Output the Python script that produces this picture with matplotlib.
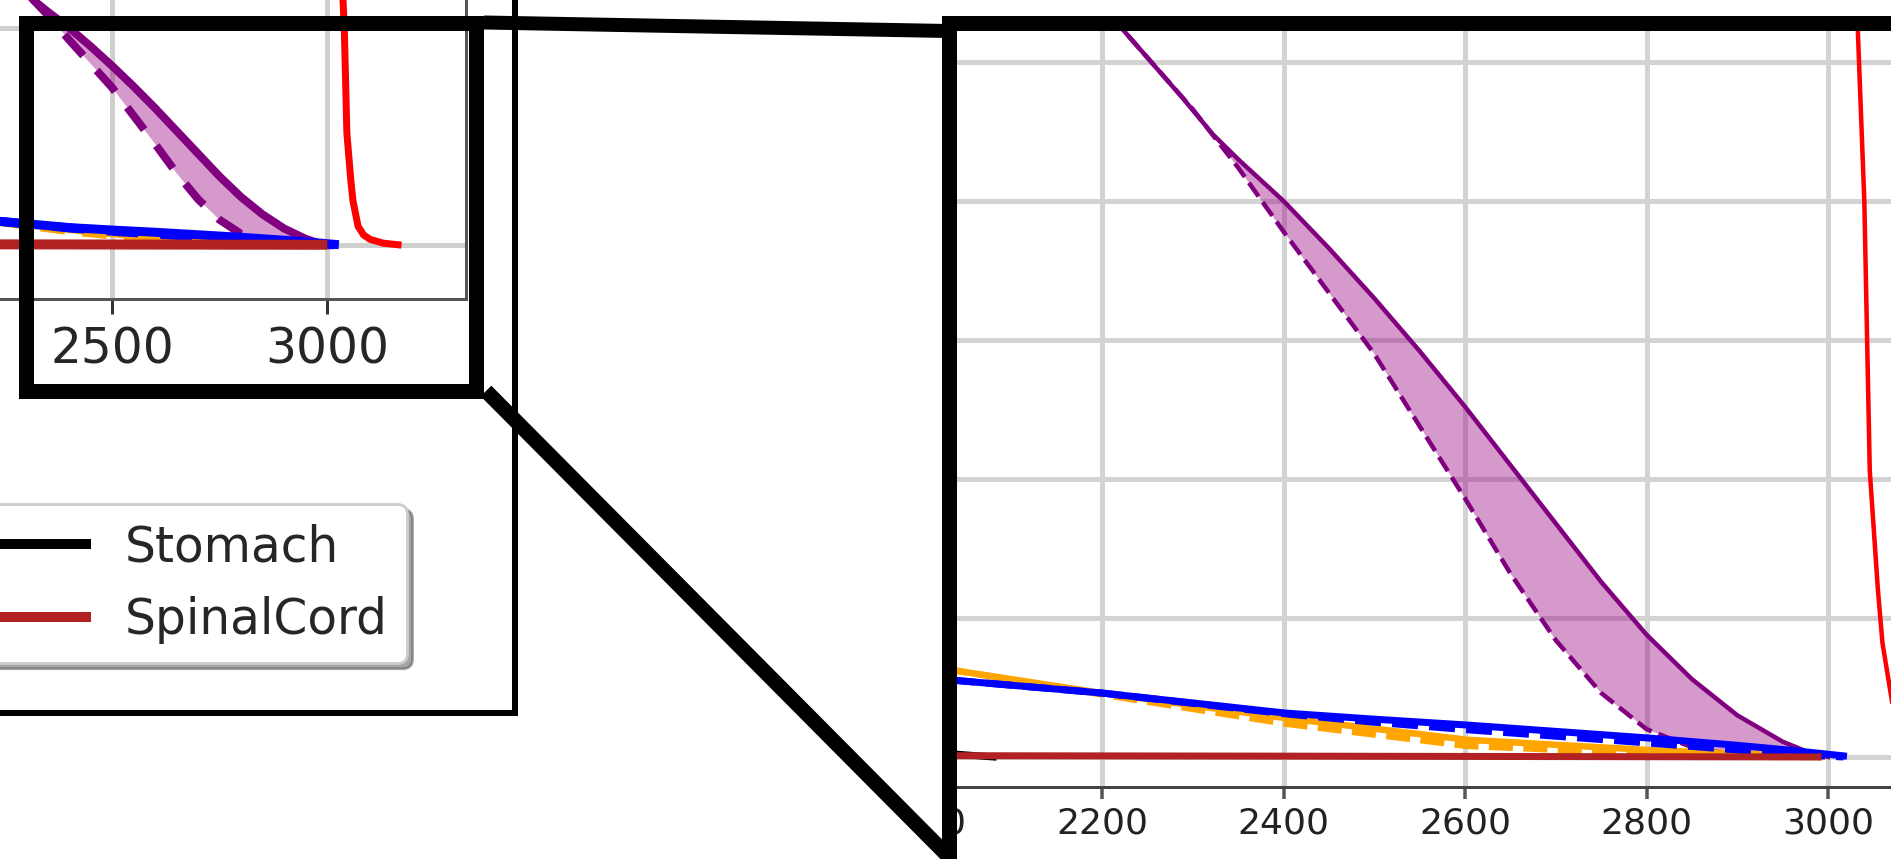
import numpy as np
import matplotlib
matplotlib.use("Agg")
import matplotlib.pyplot as plt
from matplotlib.patches import Rectangle
from matplotlib.lines import Line2D

# output size in pixels
W, H, DPI = 1891, 859, 200

# DVH data: dose [cGy], volume [%]
dose_purple = [2150, 2222, 2289, 2322, 2350, 2400, 2450, 2500, 2550, 2600, 2650, 2700, 2750,
               2800, 2850, 2900, 2950, 2980, 3000]
vol_purple = [29.0, 26.2, 23.7, 22.4, 21.5, 20.0, 18.3, 16.5, 14.6, 12.6, 10.5, 8.4, 6.3,
              4.4, 2.8, 1.5, 0.55, 0.15, 0.0]
dose_purple_dash = [2150, 2222, 2300, 2350, 2400, 2450, 2500, 2550, 2600, 2650, 2700, 2750,
                    2800, 2850, 2900, 2950]
vol_purple_dash = [29.0, 26.2, 23.3, 21.2, 18.9, 16.7, 14.5, 11.9, 9.3, 6.6, 4.2, 2.3,
                   1.0, 0.35, 0.05, 0.0]

dose_blue = [1950, 2040, 2200, 2402, 2500, 2602, 2803, 2900, 2956, 3017]
vol_blue = [2.95, 2.75, 2.3, 1.58, 1.36, 1.15, 0.68, 0.42, 0.25, 0.04]
vol_blue_dash = [2.95, 2.75, 2.3, 1.55, 1.25, 0.98, 0.5, 0.25, 0.1, 0.0]

dose_orange = [1950, 2040, 2200, 2402, 2602, 2803, 2900, 2956, 2990]
vol_orange = [3.5, 3.1, 2.3, 1.4, 0.62, 0.25, 0.12, 0.05, 0.0]
vol_orange_dash = [3.5, 3.1, 2.25, 1.2, 0.4, 0.12, 0.02, 0.0, 0.0]

dose_cord = [1950, 2400, 2989]
vol_cord = [0.05, 0.03, 0.0]

dose_stomach = [1950, 2000, 2060, 2080]
vol_stomach = [0.4, 0.2, 0.05, 0.0]

dose_red = [2990, 3010, 3025, 3033, 3040, 3046, 3055, 3060, 3068, 3072, 3085, 3100, 3130, 3165]
vol_red = [100, 80, 40, 26, 20, 10.3, 6.0, 4.1, 2.5, 1.7, 0.9, 0.5, 0.15, 0.0]

legend_labels = ["Stomach", "SpinalCord"]

main_xticks = [0, 500, 1000, 1500, 2000, 2500, 3000]
main_xticklabels = ["", "", "", "", "", "2500", "3000"]   # only these show in the crop
main_yticks = [0, 20, 40, 60, 80, 100]
zoom_xticks = [2000, 2200, 2400, 2600, 2800, 3000]
zoom_xticklabels = ["2000", "2200", "2400", "2600", "2800", "3000"]
zoom_yticks = [0, 5, 10, 15, 20, 25]

# axis limits
MAIN_XLIM = (-158, 3323)
MAIN_YLIM = (-5, 105)
ZOOM_XLIM = (1977.4, 3069.4)
ZOOM_YLIM = (-1.08, 26.33)


def box(x0, y0, x1, y1):
    """pixel box (origin top-left) -> figure fraction rect"""
    return [x0 / W, 1 - y1 / H, (x1 - x0) / W, (y1 - y0) / H]


def fx(x):
    return x / W


def fy(y):
    return 1 - y / H


def pt(px):
    return px * 72.0 / DPI


def draw_dvh(ax, lw):
    # band between the two purple curves
    ax.fill(np.r_[dose_purple, dose_purple_dash[::-1]], np.r_[vol_purple, vol_purple_dash[::-1]],
            color="#98007f", alpha=0.4, lw=0, zorder=2)
    ax.plot(dose_purple, vol_purple, color="purple", lw=lw["purple"], zorder=3)
    ax.plot(dose_purple_dash, vol_purple_dash, color="purple", lw=lw["purple"], ls=(0, lw["dash"]), zorder=3)
    ax.plot(dose_orange, vol_orange, color="orange", lw=lw["orange"], zorder=4)
    ax.plot(dose_orange, vol_orange_dash, color="orange", lw=lw["orange"], ls=(0, lw["dash"]), zorder=4)
    ax.plot(dose_blue, vol_blue, color="blue", lw=lw["blue"], zorder=5)
    ax.plot(dose_blue, vol_blue_dash, color="blue", lw=lw["blue"], ls=(0, lw["dash"]), zorder=5)
    st, = ax.plot(dose_stomach, vol_stomach, color="black", lw=lw["cord"], zorder=6)
    sc, = ax.plot(dose_cord, vol_cord, color="firebrick", lw=lw["cord"], zorder=6)
    ax.plot(dose_red, vol_red, color="red", lw=lw["red"], zorder=7)
    return st, sc


fig = plt.figure(figsize=(W / DPI, H / DPI), dpi=DPI)

# MAIN PANEL (mostly outside the visible crop)
ax = fig.add_axes(box(-1031, -894, 466, 299))
handles = draw_dvh(ax, {"purple": pt(8), "orange": pt(7), "blue": pt(9), "cord": pt(10),
                        "red": pt(7), "dash": (3.5, 2.5)})
ax.set_xlim(*MAIN_XLIM)
ax.set_ylim(*MAIN_YLIM)
ax.set_xticks(main_xticks, main_xticklabels)
ax.set_yticks(main_yticks, [""] * len(main_yticks))
ax.grid(True, color="#cfcfcf", lw=pt(5))
ax.set_axisbelow(True)
for s in ax.spines.values():
    s.set_color("#555555")
    s.set_linewidth(pt(3))
ax.tick_params(axis="both", direction="out", length=pt(15), width=pt(3), color="#333333",
               labelsize=17.5, labelcolor="#262626", pad=4)

fig.legend(handles, legend_labels, loc="upper right", bbox_to_anchor=(fx(407), fy(504)),
           borderaxespad=0, fontsize=17.5, labelcolor="#262626", fancybox=True, shadow=True,
           edgecolor="#cccccc", labelspacing=0.5, handlelength=2.0, handletextpad=0.8)

# ZOOMED PANEL
axz = fig.add_axes(box(900, 25, 1891, 787))
draw_dvh(axz, {"purple": pt(4.5), "orange": pt(6.5), "blue": pt(7), "cord": pt(7),
               "red": pt(4.5), "dash": (3.7, 1.6)})
axz.set_xlim(*ZOOM_XLIM)
axz.set_ylim(*ZOOM_YLIM)
axz.set_xticks(zoom_xticks, zoom_xticklabels)
axz.set_yticks(zoom_yticks, [""] * len(zoom_yticks))
axz.grid(True, color="#d3d3d3", lw=pt(5))
axz.set_axisbelow(True)
for name, s in axz.spines.items():
    s.set_color("#444444")
    s.set_linewidth(pt(3))
axz.spines["right"].set_visible(False)
axz.spines["top"].set_visible(False)
axz.tick_params(axis="x", direction="out", length=pt(12), width=pt(3.5), color="#555555",
                labelsize=13, labelcolor="#222222", pad=2.7)
axz.tick_params(axis="y", length=0)

# white mask: the zoomed picture is cropped on its left side
fig.add_artist(Rectangle((fx(860), 0), fx(955) - fx(860), 1, transform=fig.transFigure,
                         facecolor="white", edgecolor="none", zorder=4))

# thin frame around the main figure
frame = Rectangle((fx(-20), fy(712.5)), fx(515) - fx(-20), fy(-20) - fy(712.5),
                  transform=fig.transFigure, fill=False, ec="black", lw=pt(6), zorder=8)
frame.set_joinstyle("miter")
fig.add_artist(frame)

# zoom rectangle on the main panel
zr = Rectangle((fx(25.5), fy(390.5)), fx(476) - fx(25.5), fy(22.5) - fy(390.5),
               transform=fig.transFigure, fill=False, ec="black", lw=pt(15), zorder=10)
zr.set_joinstyle("miter")
fig.add_artist(zr)

# border of the zoomed picture
zb = Rectangle((fx(948.5), fy(863)), fx(1910) - fx(948.5), fy(23) - fy(863),
               transform=fig.transFigure, fill=False, ec="black", lw=pt(15), zorder=10)
zb.set_joinstyle("miter")
fig.add_artist(zb)

# connector lines
fig.add_artist(Line2D([fx(484), fx(948)], [fy(22.5), fy(31)], transform=fig.transFigure,
                      color="black", lw=pt(14), solid_capstyle="butt", zorder=10))
fig.add_artist(Line2D([fx(486), fx(948)], [fy(391), fy(856)], transform=fig.transFigure,
                      color="black", lw=pt(15), solid_capstyle="butt", zorder=10))

fig.savefig("out.png", dpi=DPI, facecolor="white")
